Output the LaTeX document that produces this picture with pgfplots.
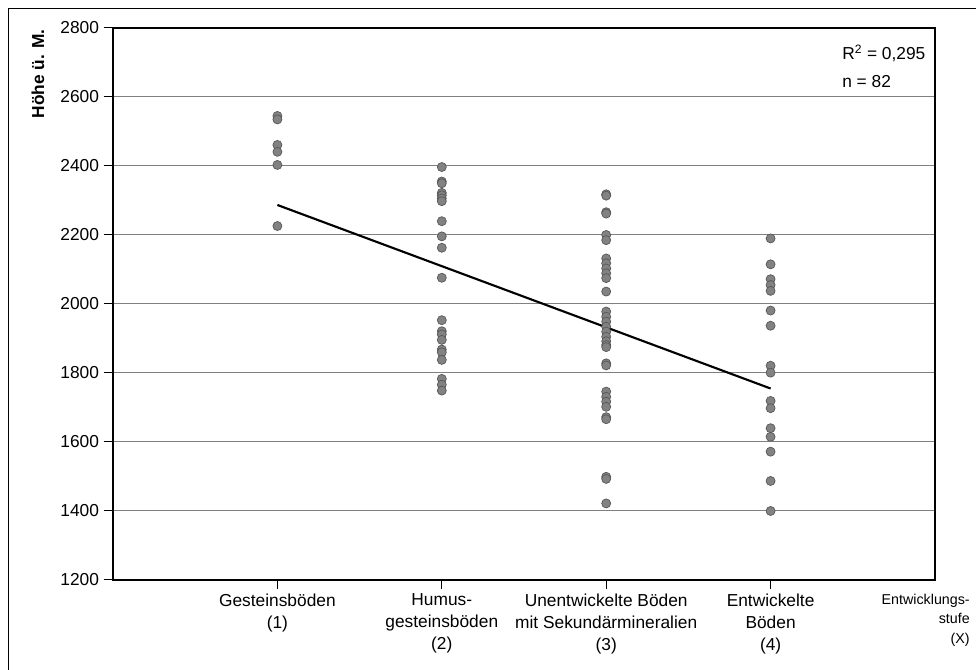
\documentclass[border=0pt]{standalone}
\usepackage{fontspec}
\setmainfont{Liberation Sans}
\usepackage{pgfplots}
\pgfplotsset{compat=1.18}
\definecolor{gridgray}{RGB}{128,128,128}
\definecolor{markfill}{RGB}{130,130,130}
\definecolor{markdraw}{RGB}{85,85,85}
\begin{document}
\begin{tikzpicture}
\begin{scope}[x=0.75pt,y=0.75pt]
\useasboundingbox (0,0) rectangle (976,670);
\draw[line width=0.75pt] (8,0) -- (8,661) -- (976,661);
\end{scope}
\begin{axis}[
  at={(84.75pt,67.5pt)}, anchor=south west,
  scale only axis, width=616.5pt, height=414pt,
  xmin=0, xmax=5, ymin=1200, ymax=2800,
  axis line style={black, line width=0.9pt},
  ytick={1200,1400,...,2800},
  xtick={1,2,3,4},
  tick pos=left,
  xticklabels={Gesteinsböden\\(1), Humus-\\gesteinsböden\\(2), Unentwickelte Böden\\mit Sekundärmineralien\\(3), Entwickelte\\Böden\\(4)},
  xticklabel style={align=center, font=\fontsize{13}{16.5}\selectfont},
  yticklabel style={font=\fontsize{13}{16}\selectfont},
  /pgf/number format/assume math mode=true,
  /pgf/number format/1000 sep={},
  tick align=outside,
  major tick length=7pt,
  tick style={black, line width=0.75pt},
  ymajorgrids,
  grid style={gridgray, line width=0.75pt},
  clip=false,
]
\addplot[only marks, mark=*, mark size=3.4pt, mark options={fill=markfill, draw=markdraw, line width=0.5pt}]
table[row sep=\\] {
x y\\
1 2545\\ 1 2535\\ 1 2461\\ 1 2441\\ 1 2403\\ 1 2226\\
};
\addplot[only marks, mark=*, mark size=3.4pt, mark options={fill=markfill, draw=markdraw, line width=0.5pt}]
table[row sep=\\] {
x y\\
2 2397\\ 2 2355\\ 2 2350\\ 2 2322\\ 2 2315\\ 2 2306\\ 2 2298\\ 2 2240\\ 2 2196\\ 2 2163\\ 2 2076\\
2 1953\\ 2 1921\\ 2 1912\\ 2 1896\\ 2 1868\\ 2 1860\\ 2 1838\\ 2 1783\\ 2 1766\\ 2 1749\\
};
\addplot[only marks, mark=*, mark size=3.4pt, mark options={fill=markfill, draw=markdraw, line width=0.5pt}]
table[row sep=\\] {
x y\\
3 2318\\ 3 2314\\ 3 2266\\ 3 2262\\ 3 2200\\ 3 2185\\ 3 2132\\ 3 2118\\ 3 2103\\ 3 2089\\ 3 2075\\
3 2036\\ 3 1978\\ 3 1963\\ 3 1949\\ 3 1934\\ 3 1920\\ 3 1905\\ 3 1892\\ 3 1881\\ 3 1875\\ 3 1828\\
3 1822\\ 3 1746\\ 3 1731\\ 3 1717\\ 3 1702\\ 3 1672\\ 3 1666\\ 3 1499\\ 3 1493\\ 3 1422\\
};
\addplot[only marks, mark=*, mark size=3.4pt, mark options={fill=markfill, draw=markdraw, line width=0.5pt}]
table[row sep=\\] {
x y\\
4 2190\\ 4 2115\\ 4 2072\\ 4 2055\\ 4 2038\\ 4 1981\\ 4 1937\\ 4 1821\\ 4 1801\\ 4 1719\\ 4 1698\\
4 1640\\ 4 1615\\ 4 1572\\ 4 1487\\ 4 1400\\
};
\addplot[black, line width=1.6pt] coordinates {(1,2287) (4,1755)};
\end{axis}
\begin{scope}[x=0.75pt,y=0.75pt]
\node[rotate=90, anchor=east, inner sep=0pt, font=\fontsize{13}{16}\selectfont\bfseries] at (38,641) {Höhe ü. M.};
\node[anchor=west, inner sep=0pt, font=\fontsize{13}{16}\selectfont] at (842,617) {R\textsuperscript{2} = 0,295};
\node[anchor=west, inner sep=0pt, font=\fontsize{13}{16}\selectfont] at (842,588) {n = 82};
\node[anchor=north east, align=right, inner sep=0pt, font=\fontsize{10.7}{14.5}\selectfont] at (970,76) {Entwicklungs-\\stufe\\(X)};
\end{scope}
\end{tikzpicture}
\end{document}
